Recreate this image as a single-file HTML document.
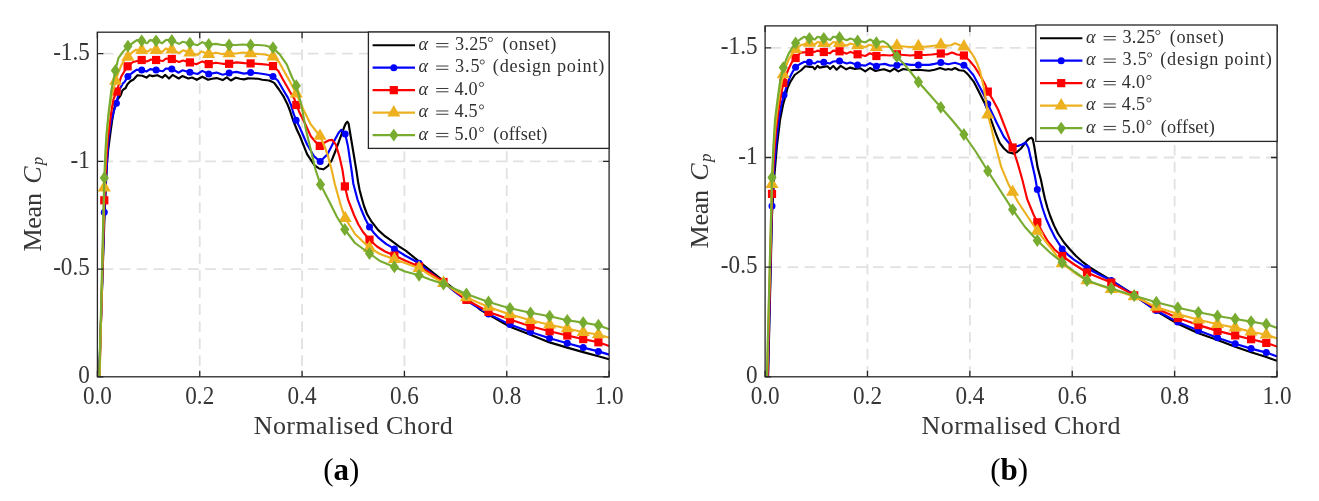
<!DOCTYPE html><html><head><meta charset="utf-8"><style>html,body{margin:0;padding:0;background:#fff;width:1319px;height:501px;overflow:hidden}svg{display:block;will-change:transform}text{font-family:"Liberation Serif", serif}</style></head><body>
<svg width="1319" height="501" viewBox="0 0 1319 501">
<defs>
<clipPath id="cL"><rect x="97.4" y="32.2" width="511.7" height="344.6"/></clipPath>
<clipPath id="cR"><rect x="765.1" y="25.9" width="511.9" height="350.9"/></clipPath>
</defs>
<rect width="1319" height="501" fill="#fff"/>
<path d="M199.74 32.2V42.9M199.74 49.2V59.9M199.74 66.2V76.9M199.74 83.2V93.9M199.74 100.2V110.9M199.74 117.2V127.9M199.74 134.2V144.9M199.74 151.2V161.9M199.74 168.2V178.9M199.74 185.2V195.9M199.74 202.2V212.9M199.74 219.2V229.9M199.74 236.2V246.9M199.74 253.2V263.9M199.74 270.2V280.9M199.74 287.2V297.9M199.74 304.2V314.9M199.74 321.2V331.9M199.74 338.2V348.9M199.74 355.2V365.9M199.74 372.2V376.8M302.08 32.2V42.9M302.08 49.2V59.9M302.08 66.2V76.9M302.08 83.2V93.9M302.08 100.2V110.9M302.08 117.2V127.9M302.08 134.2V144.9M302.08 151.2V161.9M302.08 168.2V178.9M302.08 185.2V195.9M302.08 202.2V212.9M302.08 219.2V229.9M302.08 236.2V246.9M302.08 253.2V263.9M302.08 270.2V280.9M302.08 287.2V297.9M302.08 304.2V314.9M302.08 321.2V331.9M302.08 338.2V348.9M302.08 355.2V365.9M302.08 372.2V376.8M404.42 32.2V42.9M404.42 49.2V59.9M404.42 66.2V76.9M404.42 83.2V93.9M404.42 100.2V110.9M404.42 117.2V127.9M404.42 134.2V144.9M404.42 151.2V161.9M404.42 168.2V178.9M404.42 185.2V195.9M404.42 202.2V212.9M404.42 219.2V229.9M404.42 236.2V246.9M404.42 253.2V263.9M404.42 270.2V280.9M404.42 287.2V297.9M404.42 304.2V314.9M404.42 321.2V331.9M404.42 338.2V348.9M404.42 355.2V365.9M404.42 372.2V376.8M506.76 32.2V42.9M506.76 49.2V59.9M506.76 66.2V76.9M506.76 83.2V93.9M506.76 100.2V110.9M506.76 117.2V127.9M506.76 134.2V144.9M506.76 151.2V161.9M506.76 168.2V178.9M506.76 185.2V195.9M506.76 202.2V212.9M506.76 219.2V229.9M506.76 236.2V246.9M506.76 253.2V263.9M506.76 270.2V280.9M506.76 287.2V297.9M506.76 304.2V314.9M506.76 321.2V331.9M506.76 338.2V348.9M506.76 355.2V365.9M506.76 372.2V376.8M598.4 269.1H609.1M581.3 269.1H592M564.2 269.1H574.9M547.1 269.1H557.8M530 269.1H540.7M512.9 269.1H523.6M495.8 269.1H506.5M478.7 269.1H489.4M461.6 269.1H472.3M444.5 269.1H455.2M427.4 269.1H438.1M410.3 269.1H421M393.2 269.1H403.9M376.1 269.1H386.8M359 269.1H369.7M341.9 269.1H352.6M324.8 269.1H335.5M307.7 269.1H318.4M290.6 269.1H301.3M273.5 269.1H284.2M256.4 269.1H267.1M239.3 269.1H250M222.2 269.1H232.9M205.1 269.1H215.8M188 269.1H198.7M170.9 269.1H181.6M153.8 269.1H164.5M136.7 269.1H147.4M119.6 269.1H130.3M102.5 269.1H113.2M598.4 161.4H609.1M581.3 161.4H592M564.2 161.4H574.9M547.1 161.4H557.8M530 161.4H540.7M512.9 161.4H523.6M495.8 161.4H506.5M478.7 161.4H489.4M461.6 161.4H472.3M444.5 161.4H455.2M427.4 161.4H438.1M410.3 161.4H421M393.2 161.4H403.9M376.1 161.4H386.8M359 161.4H369.7M341.9 161.4H352.6M324.8 161.4H335.5M307.7 161.4H318.4M290.6 161.4H301.3M273.5 161.4H284.2M256.4 161.4H267.1M239.3 161.4H250M222.2 161.4H232.9M205.1 161.4H215.8M188 161.4H198.7M170.9 161.4H181.6M153.8 161.4H164.5M136.7 161.4H147.4M119.6 161.4H130.3M102.5 161.4H113.2M598.4 53.7H609.1M581.3 53.7H592M564.2 53.7H574.9M547.1 53.7H557.8M530 53.7H540.7M512.9 53.7H523.6M495.8 53.7H506.5M478.7 53.7H489.4M461.6 53.7H472.3M444.5 53.7H455.2M427.4 53.7H438.1M410.3 53.7H421M393.2 53.7H403.9M376.1 53.7H386.8M359 53.7H369.7M341.9 53.7H352.6M324.8 53.7H335.5M307.7 53.7H318.4M290.6 53.7H301.3M273.5 53.7H284.2M256.4 53.7H267.1M239.3 53.7H250M222.2 53.7H232.9M205.1 53.7H215.8M188 53.7H198.7M170.9 53.7H181.6M153.8 53.7H164.5M136.7 53.7H147.4M119.6 53.7H130.3M102.5 53.7H113.2" stroke="#e1e1e1" stroke-width="1.8" fill="none"/>
<polyline points="99,380 104.3,222 106,182 107.2,160 108.4,148 109.6,139 110.8,130 112.2,120 113.6,112 115.2,104 117,100 119,97.5 120.8,95 122.4,90.5 124,89 125.5,88.2 127.3,84.5 130.3,81.2 133.5,79.5 137.4,75.2 142.3,75.8 146.5,77.6 149.6,75.2 152.6,76.1 157.4,75.2 162.3,77.6 165.3,74.9 169,78.5 172.6,74.9 178.7,78.5 182.3,76.1 188.4,78.5 192,77.5 196.8,79.8 202.3,76.7 208.1,79.8 212,78.8 216.6,78.1 222.7,80.1 226.8,77.4 230.9,80.5 235.7,77.7 240,78.8 243.9,79.4 248,78.4 253,78.5 258.2,78.8 262.3,79.8 269.1,80.5 271.5,81.6 274.2,82.9 279,89.5 283.7,96.7 287.3,103.9 289.7,110 293,120 297,130 300,136.3 307.2,154.3 314.4,165.1 319,168.5 323.4,169.3 328,166 331.7,160.3 335.5,151 339.5,139.9 344.3,126.8 345.9,123.2 347.3,121.7 348.6,123.6 350.3,134 353.9,155.5 356.3,170 358.1,182 359.6,190 362,199 364,206 367,214 371,220.8 378,229.9 385,236.2 392,241.2 399,246.3 406,250.8 419.2,261.6 442.3,280 465.5,297.5 480,309.5 488.5,314.5 510,326.7 530.5,334.7 549.6,342.4 567.3,347.6 583.2,352.1 598.4,356.3 609.1,359.3" fill="none" stroke="#000000" stroke-width="2.15" stroke-linejoin="round" clip-path="url(#cL)"/>
<g clip-path="url(#cL)"></g>
<polyline points="99.2,380 104.3,212.2 106.5,170 108.5,140 110.5,125 113.6,112 116.4,103.3 118.3,95 119.8,89 121.2,86.5 122.8,83.5 124.5,82 127.9,76.6 132,73 136.8,69.7 141.7,70.1 146.5,71.5 150.2,69.1 156.1,70.1 162.9,71.2 165.9,68.5 171.8,68.9 178.7,72.7 182.3,70.3 189.9,72.3 197.5,74 202.3,70.9 208.7,74 216.6,72.6 222.7,74.7 229.1,73 236.4,71.9 243.9,73.6 250.6,72.6 258.2,73.3 265,74.3 269,75 273,76.5 277.8,80.5 283.7,90.7 288,97.9 291,105 293,112 296.1,120.3 300,128 307.2,144.7 314.4,156.7 320.2,161.5 327.5,154.3 334.7,139.9 338.5,133 341.3,129.8 345.2,134 347.9,145.9 351.5,170 353.4,184 357.5,199.5 361,209 365.3,219 369.5,227.1 374,233 378,237.3 386,243.8 394.4,248.9 405,255.5 419.1,263.3 430,272 443.5,282.5 455,292 466.4,300.5 488.5,313.9 510,324.6 530.5,332 549.6,338.3 567.3,343.2 583.2,347.6 598.4,351.4 609.1,354.6" fill="none" stroke="#0000ff" stroke-width="2.15" stroke-linejoin="round" clip-path="url(#cL)"/>
<g clip-path="url(#cL)"><circle cx="104.3" cy="212.2" r="3.5" fill="#0000ff"/><circle cx="116.4" cy="103.3" r="3.5" fill="#0000ff"/><circle cx="127.9" cy="76.6" r="3.5" fill="#0000ff"/><circle cx="141.7" cy="70.1" r="3.5" fill="#0000ff"/><circle cx="156.1" cy="70.1" r="3.5" fill="#0000ff"/><circle cx="171.8" cy="68.9" r="3.5" fill="#0000ff"/><circle cx="189.9" cy="72.3" r="3.5" fill="#0000ff"/><circle cx="208.7" cy="74" r="3.5" fill="#0000ff"/><circle cx="229.1" cy="73" r="3.5" fill="#0000ff"/><circle cx="250.6" cy="72.6" r="3.5" fill="#0000ff"/><circle cx="273" cy="76.5" r="3.5" fill="#0000ff"/><circle cx="296.1" cy="120.3" r="3.5" fill="#0000ff"/><circle cx="320.2" cy="161.5" r="3.5" fill="#0000ff"/><circle cx="345.2" cy="134" r="3.5" fill="#0000ff"/><circle cx="369.5" cy="227.1" r="3.5" fill="#0000ff"/><circle cx="394.4" cy="248.9" r="3.5" fill="#0000ff"/><circle cx="419.1" cy="263.3" r="3.5" fill="#0000ff"/><circle cx="443.5" cy="282.5" r="3.5" fill="#0000ff"/><circle cx="466.4" cy="300.5" r="3.5" fill="#0000ff"/><circle cx="488.5" cy="313.9" r="3.5" fill="#0000ff"/><circle cx="510" cy="324.6" r="3.5" fill="#0000ff"/><circle cx="530.5" cy="332" r="3.5" fill="#0000ff"/><circle cx="549.6" cy="338.3" r="3.5" fill="#0000ff"/><circle cx="567.3" cy="343.2" r="3.5" fill="#0000ff"/><circle cx="583.2" cy="347.6" r="3.5" fill="#0000ff"/><circle cx="598.4" cy="351.4" r="3.5" fill="#0000ff"/></g>
<polyline points="99.4,380 104.3,200.3 106,165 107.5,140 109,130 110.5,118 112.2,106 113.6,99 115.2,95 116.6,91.5 119,84 121,77 124,72 127.6,66.3 133,62 141.7,60 147,61.5 151,59.5 156.1,60 163,61 166,58.5 171.8,59 179,62 183,60.5 189.9,62.4 196.4,64.3 202.3,61.4 208.7,64.1 215.9,62.7 222.7,63.8 229.1,63.8 236.4,62.4 244.6,63.1 250.6,63.4 261.6,64.1 268,64.8 273,66.1 278.4,71 282.5,78.7 288,88.3 292.1,95.5 294.5,99.1 296.3,105 300,113.6 306,125.6 310.8,136.3 315,141.4 319.8,145.9 325.1,142.3 329,140.3 332.3,139.9 335.9,144.7 339.5,156.7 342.5,170 344.9,186.4 348,199.5 350.7,206.5 354,215 358.4,224.5 363,232 369.5,239.7 377,246.5 385,251.5 394.4,255.6 405,260.5 419.1,266.6 430,273 443.5,282 455,291 466.4,299.8 488.5,311.9 510,319.5 530.5,326.2 549.6,331.2 567.3,335.5 583.2,339.1 598.4,342.3 609.1,346" fill="none" stroke="#ff0000" stroke-width="2.15" stroke-linejoin="round" clip-path="url(#cL)"/>
<g clip-path="url(#cL)"><rect x="100.2" y="196.2" width="8.2" height="8.2" fill="#ff0000"/><rect x="112.5" y="87.4" width="8.2" height="8.2" fill="#ff0000"/><rect x="123.5" y="62.2" width="8.2" height="8.2" fill="#ff0000"/><rect x="137.6" y="55.9" width="8.2" height="8.2" fill="#ff0000"/><rect x="152" y="55.9" width="8.2" height="8.2" fill="#ff0000"/><rect x="167.7" y="54.9" width="8.2" height="8.2" fill="#ff0000"/><rect x="185.8" y="58.3" width="8.2" height="8.2" fill="#ff0000"/><rect x="204.6" y="60" width="8.2" height="8.2" fill="#ff0000"/><rect x="225" y="59.7" width="8.2" height="8.2" fill="#ff0000"/><rect x="246.5" y="59.3" width="8.2" height="8.2" fill="#ff0000"/><rect x="268.9" y="62" width="8.2" height="8.2" fill="#ff0000"/><rect x="292.2" y="100.9" width="8.2" height="8.2" fill="#ff0000"/><rect x="315.7" y="141.8" width="8.2" height="8.2" fill="#ff0000"/><rect x="340.8" y="182.3" width="8.2" height="8.2" fill="#ff0000"/><rect x="365.4" y="235.6" width="8.2" height="8.2" fill="#ff0000"/><rect x="390.3" y="251.5" width="8.2" height="8.2" fill="#ff0000"/><rect x="415" y="262.5" width="8.2" height="8.2" fill="#ff0000"/><rect x="439.4" y="277.9" width="8.2" height="8.2" fill="#ff0000"/><rect x="462.3" y="295.7" width="8.2" height="8.2" fill="#ff0000"/><rect x="484.4" y="307.8" width="8.2" height="8.2" fill="#ff0000"/><rect x="505.9" y="315.4" width="8.2" height="8.2" fill="#ff0000"/><rect x="526.4" y="322.1" width="8.2" height="8.2" fill="#ff0000"/><rect x="545.5" y="327.1" width="8.2" height="8.2" fill="#ff0000"/><rect x="563.2" y="331.4" width="8.2" height="8.2" fill="#ff0000"/><rect x="579.1" y="335" width="8.2" height="8.2" fill="#ff0000"/><rect x="594.3" y="338.2" width="8.2" height="8.2" fill="#ff0000"/></g>
<polyline points="99.6,380 104.3,187.7 105.8,155 107.3,130 109,112 111.5,97 115.6,81 118.5,72 121.5,65 124,60.5 127.9,57 132,52.5 136.1,49.7 141.7,50.2 148.4,51.4 150.5,49.3 156.1,50.2 162.7,51.7 165.5,48.6 171.8,49.8 179.1,53.1 182.9,50.3 186.6,51.4 189.9,52.7 197.5,54.8 201.6,51.4 208.7,54.2 216,52.7 222,54 229.1,53.4 236,53.5 243,52.5 250.6,53.4 258,54 265,54.5 273,56.6 279,62 283.7,70.4 289.7,81.1 296.3,93.7 303.6,110 310.8,124.4 316,131 320,136 324,145 327.5,154.3 331.7,170 334.8,184 340.8,205.5 345.2,218.3 355,234 369.5,247.9 380,254 394.4,259.3 405,263 419.1,268.2 430,275 443.5,283.2 455,290.5 466.4,297.4 488.5,307 510,314.4 530.5,320.3 549.6,324.7 567.3,328.5 583.2,332.2 598.4,334.5 609.1,337.8" fill="none" stroke="#edb120" stroke-width="2.15" stroke-linejoin="round" clip-path="url(#cL)"/>
<g clip-path="url(#cL)"><path d="M104.3 180.1L110.88 191.5L97.72 191.5Z" fill="#edb120"/><path d="M115.6 73.4L122.18 84.8L109.02 84.8Z" fill="#edb120"/><path d="M127.9 49.4L134.48 60.8L121.32 60.8Z" fill="#edb120"/><path d="M141.7 42.6L148.28 54L135.12 54Z" fill="#edb120"/><path d="M156.1 42.6L162.68 54L149.52 54Z" fill="#edb120"/><path d="M171.8 42.2L178.38 53.6L165.22 53.6Z" fill="#edb120"/><path d="M189.9 45.1L196.48 56.5L183.32 56.5Z" fill="#edb120"/><path d="M208.7 46.6L215.28 58L202.12 58Z" fill="#edb120"/><path d="M229.1 45.8L235.68 57.2L222.52 57.2Z" fill="#edb120"/><path d="M250.6 45.8L257.18 57.2L244.02 57.2Z" fill="#edb120"/><path d="M273 49L279.58 60.4L266.42 60.4Z" fill="#edb120"/><path d="M296.3 86.1L302.88 97.5L289.72 97.5Z" fill="#edb120"/><path d="M320 128.4L326.58 139.8L313.42 139.8Z" fill="#edb120"/><path d="M345.2 210.7L351.78 222.1L338.62 222.1Z" fill="#edb120"/><path d="M369.5 240.3L376.08 251.7L362.92 251.7Z" fill="#edb120"/><path d="M394.4 251.7L400.98 263.1L387.82 263.1Z" fill="#edb120"/><path d="M419.1 260.6L425.68 272L412.52 272Z" fill="#edb120"/><path d="M443.5 275.6L450.08 287L436.92 287Z" fill="#edb120"/><path d="M466.4 289.8L472.98 301.2L459.82 301.2Z" fill="#edb120"/><path d="M488.5 299.4L495.08 310.8L481.92 310.8Z" fill="#edb120"/><path d="M510 306.8L516.58 318.2L503.42 318.2Z" fill="#edb120"/><path d="M530.5 312.7L537.08 324.1L523.92 324.1Z" fill="#edb120"/><path d="M549.6 317.1L556.18 328.5L543.02 328.5Z" fill="#edb120"/><path d="M567.3 320.9L573.88 332.3L560.72 332.3Z" fill="#edb120"/><path d="M583.2 324.6L589.78 336L576.62 336Z" fill="#edb120"/><path d="M598.4 326.9L604.98 338.3L591.82 338.3Z" fill="#edb120"/></g>
<polyline points="99.2,380 104.3,177.9 105.5,150 106.5,134 108.7,112 111.4,90 115.4,70.5 118.4,58.1 123.1,51.6 127.9,46.2 132,43.5 136.8,40.1 141.7,40.8 147,43.2 150.1,40.1 156.1,40.8 162.1,43.2 166.2,39.8 171.8,40.5 179.1,43.9 182.5,41.8 185.9,42.5 189.9,43.2 197.5,45.2 202.3,42.2 208.7,44.5 216,43.9 222,45 229.1,45 236,45 243,44.5 250.6,45 258,45 265,45.5 273,47.7 280.1,54.8 286.7,64.4 292.1,77.5 296.3,85.7 301.1,103.9 306,130 310.8,150 315.6,170 320.5,184.5 330,203 337,217 344.8,229.5 355,243 369.5,253.5 380,261 394.4,266.9 405,271.5 419.1,275.3 430,279.5 443.5,284 455,289 466.4,294 488.5,302 510,308.3 530.5,312.8 549.6,316.2 567.3,320.3 583.2,322.6 598.4,325.2 609.1,329.3" fill="none" stroke="#77ac30" stroke-width="2.15" stroke-linejoin="round" clip-path="url(#cL)"/>
<g clip-path="url(#cL)"><path d="M104.3 171.5L108.9 177.9L104.3 184.3L99.7 177.9Z" fill="#77ac30"/><path d="M115.4 64.1L120 70.5L115.4 76.9L110.8 70.5Z" fill="#77ac30"/><path d="M127.9 39.8L132.5 46.2L127.9 52.6L123.3 46.2Z" fill="#77ac30"/><path d="M141.7 34.4L146.3 40.8L141.7 47.2L137.1 40.8Z" fill="#77ac30"/><path d="M156.1 34.4L160.7 40.8L156.1 47.2L151.5 40.8Z" fill="#77ac30"/><path d="M171.8 34.1L176.4 40.5L171.8 46.9L167.2 40.5Z" fill="#77ac30"/><path d="M189.9 36.8L194.5 43.2L189.9 49.6L185.3 43.2Z" fill="#77ac30"/><path d="M208.7 38.1L213.3 44.5L208.7 50.9L204.1 44.5Z" fill="#77ac30"/><path d="M229.1 38.6L233.7 45L229.1 51.4L224.5 45Z" fill="#77ac30"/><path d="M250.6 38.6L255.2 45L250.6 51.4L246 45Z" fill="#77ac30"/><path d="M273 41.3L277.6 47.7L273 54.1L268.4 47.7Z" fill="#77ac30"/><path d="M296.3 79.3L300.9 85.7L296.3 92.1L291.7 85.7Z" fill="#77ac30"/><path d="M320.5 178.1L325.1 184.5L320.5 190.9L315.9 184.5Z" fill="#77ac30"/><path d="M344.8 223.1L349.4 229.5L344.8 235.9L340.2 229.5Z" fill="#77ac30"/><path d="M369.5 247.1L374.1 253.5L369.5 259.9L364.9 253.5Z" fill="#77ac30"/><path d="M394.4 260.5L399 266.9L394.4 273.3L389.8 266.9Z" fill="#77ac30"/><path d="M419.1 268.9L423.7 275.3L419.1 281.7L414.5 275.3Z" fill="#77ac30"/><path d="M443.5 277.6L448.1 284L443.5 290.4L438.9 284Z" fill="#77ac30"/><path d="M466.4 287.6L471 294L466.4 300.4L461.8 294Z" fill="#77ac30"/><path d="M488.5 295.6L493.1 302L488.5 308.4L483.9 302Z" fill="#77ac30"/><path d="M510 301.9L514.6 308.3L510 314.7L505.4 308.3Z" fill="#77ac30"/><path d="M530.5 306.4L535.1 312.8L530.5 319.2L525.9 312.8Z" fill="#77ac30"/><path d="M549.6 309.8L554.2 316.2L549.6 322.6L545 316.2Z" fill="#77ac30"/><path d="M567.3 313.9L571.9 320.3L567.3 326.7L562.7 320.3Z" fill="#77ac30"/><path d="M583.2 316.2L587.8 322.6L583.2 329L578.6 322.6Z" fill="#77ac30"/><path d="M598.4 318.8L603 325.2L598.4 331.6L593.8 325.2Z" fill="#77ac30"/></g>
<path d="M97.4 376.8v-6.0M97.4 32.2v6.0M199.74 376.8v-6.0M199.74 32.2v6.0M302.08 376.8v-6.0M302.08 32.2v6.0M404.42 376.8v-6.0M404.42 32.2v6.0M506.76 376.8v-6.0M506.76 32.2v6.0M609.1 376.8v-6.0M609.1 32.2v6.0M97.4 376.8h6.0M609.1 376.8h-6.0M97.4 269.1h6.0M609.1 269.1h-6.0M97.4 161.4h6.0M609.1 161.4h-6.0M97.4 53.7h6.0M609.1 53.7h-6.0" stroke="#262626" stroke-width="1.3" fill="none"/>
<rect x="97.4" y="32.2" width="511.7" height="344.6" stroke="#262626" stroke-width="1.3" fill="none"/>
<text transform="translate(89.8,383) scale(0.965,1.03)" text-anchor="end" font-size="24" fill="#363636">0</text>
<text transform="translate(89.8,275.3) scale(0.965,1.03)" text-anchor="end" font-size="24" fill="#363636">-0.5</text>
<text transform="translate(89.8,167.6) scale(0.965,1.03)" text-anchor="end" font-size="24" fill="#363636">-1</text>
<text transform="translate(89.8,59.9) scale(0.965,1.03)" text-anchor="end" font-size="24" fill="#363636">-1.5</text>
<text transform="translate(97.4,403.7) scale(0.965,1.05)" text-anchor="middle" font-size="24" fill="#363636">0.0</text>
<text transform="translate(199.74,403.7) scale(0.965,1.05)" text-anchor="middle" font-size="24" fill="#363636">0.2</text>
<text transform="translate(302.08,403.7) scale(0.965,1.05)" text-anchor="middle" font-size="24" fill="#363636">0.4</text>
<text transform="translate(404.42,403.7) scale(0.965,1.05)" text-anchor="middle" font-size="24" fill="#363636">0.6</text>
<text transform="translate(506.76,403.7) scale(0.965,1.05)" text-anchor="middle" font-size="24" fill="#363636">0.8</text>
<text transform="translate(609.1,403.7) scale(0.965,1.05)" text-anchor="middle" font-size="24" fill="#363636">1.0</text>
<rect x="368.4" y="32" width="240.7" height="116.4" fill="#fff" stroke="#262626" stroke-width="1.3"/>
<line x1="372.6" y1="45.2" x2="415" y2="45.2" stroke="#000000" stroke-width="2.15"/>

<text x="418.6" y="50" font-size="18.2" font-style="italic" fill="#303030">α</text>
<path d="M436.2 43.55H448.4M436.2 46.85H448.4" stroke="#303030" stroke-width="0.95"/>
<text x="455.1" y="50" font-size="18.2" fill="#303030" textLength="32.5" lengthAdjust="spacing">3.25</text>
<circle cx="490.4" cy="39.5" r="2.1" fill="none" stroke="#303030" stroke-width="0.85"/>
<text x="502.4" y="50" font-size="18.2" fill="#303030" textLength="53.9" lengthAdjust="spacing">(onset)</text>
<line x1="372.6" y1="67.67" x2="415" y2="67.67" stroke="#0000ff" stroke-width="2.15"/>
<circle cx="393.8" cy="67.67" r="3.5" fill="#0000ff"/>
<text x="418.6" y="72.47" font-size="18.2" font-style="italic" fill="#303030">α</text>
<path d="M436.2 66.02H448.4M436.2 69.32H448.4" stroke="#303030" stroke-width="0.95"/>
<text x="455.1" y="72.47" font-size="18.2" fill="#303030" textLength="24.4" lengthAdjust="spacing">3.5</text>
<circle cx="482.2" cy="61.97" r="2.1" fill="none" stroke="#303030" stroke-width="0.85"/>
<text x="492.8" y="72.47" font-size="18.2" fill="#303030" textLength="111.5" lengthAdjust="spacing">(design point)</text>
<line x1="372.6" y1="90.14" x2="415" y2="90.14" stroke="#ff0000" stroke-width="2.15"/>
<rect x="389.7" y="86.04" width="8.2" height="8.2" fill="#ff0000"/>
<text x="418.6" y="94.94" font-size="18.2" font-style="italic" fill="#303030">α</text>
<path d="M436.2 88.49H448.4M436.2 91.79H448.4" stroke="#303030" stroke-width="0.95"/>
<text x="454.4" y="94.94" font-size="18.2" fill="#303030" textLength="23.3" lengthAdjust="spacing">4.0</text>
<circle cx="481.5" cy="84.44" r="2.1" fill="none" stroke="#303030" stroke-width="0.85"/>
<line x1="372.6" y1="112.61" x2="415" y2="112.61" stroke="#edb120" stroke-width="2.15"/>
<path d="M393.8 105.01L400.38 116.41L387.22 116.41Z" fill="#edb120"/>
<text x="418.6" y="117.41" font-size="18.2" font-style="italic" fill="#303030">α</text>
<path d="M436.2 110.96H448.4M436.2 114.26H448.4" stroke="#303030" stroke-width="0.95"/>
<text x="454.4" y="117.41" font-size="18.2" fill="#303030" textLength="23.3" lengthAdjust="spacing">4.5</text>
<circle cx="481.5" cy="106.91" r="2.1" fill="none" stroke="#303030" stroke-width="0.85"/>
<line x1="372.6" y1="135.08" x2="415" y2="135.08" stroke="#77ac30" stroke-width="2.15"/>
<path d="M393.8 128.68L398.4 135.08L393.8 141.48L389.2 135.08Z" fill="#77ac30"/>
<text x="418.6" y="139.88" font-size="18.2" font-style="italic" fill="#303030">α</text>
<path d="M436.2 133.43H448.4M436.2 136.73H448.4" stroke="#303030" stroke-width="0.95"/>
<text x="454.4" y="139.88" font-size="18.2" fill="#303030" textLength="23.3" lengthAdjust="spacing">5.0</text>
<circle cx="481.5" cy="129.38" r="2.1" fill="none" stroke="#303030" stroke-width="0.85"/>
<text x="493.3" y="139.88" font-size="18.2" fill="#303030" textLength="54.1" lengthAdjust="spacing">(offset)</text>
<text x="353.25" y="433.6" text-anchor="middle" font-size="26" fill="#363636" textLength="199" lengthAdjust="spacing">Normalised Chord</text>
<text transform="translate(40.6,251.6) rotate(-90)" font-size="26" fill="#363636" textLength="58.5" lengthAdjust="spacing">Mean</text>
<text transform="translate(40.6,183.8) rotate(-90)" font-size="26" font-style="italic" fill="#363636">C</text>
<text transform="translate(43.2,165.2) rotate(-90)" font-size="17" font-style="italic" fill="#363636">p</text>
<text x="341.35" y="479.6" text-anchor="middle" font-size="31" fill="#000">(<tspan font-weight="bold">a</tspan>)</text>
<path d="M867.48 25.9V36.6M867.48 42.9V53.6M867.48 59.9V70.6M867.48 76.9V87.6M867.48 93.9V104.6M867.48 110.9V121.6M867.48 127.9V138.6M867.48 144.9V155.6M867.48 161.9V172.6M867.48 178.9V189.6M867.48 195.9V206.6M867.48 212.9V223.6M867.48 229.9V240.6M867.48 246.9V257.6M867.48 263.9V274.6M867.48 280.9V291.6M867.48 297.9V308.6M867.48 314.9V325.6M867.48 331.9V342.6M867.48 348.9V359.6M867.48 365.9V376.6M969.86 25.9V36.6M969.86 42.9V53.6M969.86 59.9V70.6M969.86 76.9V87.6M969.86 93.9V104.6M969.86 110.9V121.6M969.86 127.9V138.6M969.86 144.9V155.6M969.86 161.9V172.6M969.86 178.9V189.6M969.86 195.9V206.6M969.86 212.9V223.6M969.86 229.9V240.6M969.86 246.9V257.6M969.86 263.9V274.6M969.86 280.9V291.6M969.86 297.9V308.6M969.86 314.9V325.6M969.86 331.9V342.6M969.86 348.9V359.6M969.86 365.9V376.6M1072.24 25.9V36.6M1072.24 42.9V53.6M1072.24 59.9V70.6M1072.24 76.9V87.6M1072.24 93.9V104.6M1072.24 110.9V121.6M1072.24 127.9V138.6M1072.24 144.9V155.6M1072.24 161.9V172.6M1072.24 178.9V189.6M1072.24 195.9V206.6M1072.24 212.9V223.6M1072.24 229.9V240.6M1072.24 246.9V257.6M1072.24 263.9V274.6M1072.24 280.9V291.6M1072.24 297.9V308.6M1072.24 314.9V325.6M1072.24 331.9V342.6M1072.24 348.9V359.6M1072.24 365.9V376.6M1174.62 25.9V36.6M1174.62 42.9V53.6M1174.62 59.9V70.6M1174.62 76.9V87.6M1174.62 93.9V104.6M1174.62 110.9V121.6M1174.62 127.9V138.6M1174.62 144.9V155.6M1174.62 161.9V172.6M1174.62 178.9V189.6M1174.62 195.9V206.6M1174.62 212.9V223.6M1174.62 229.9V240.6M1174.62 246.9V257.6M1174.62 263.9V274.6M1174.62 280.9V291.6M1174.62 297.9V308.6M1174.62 314.9V325.6M1174.62 331.9V342.6M1174.62 348.9V359.6M1174.62 365.9V376.6M1266.3 267.15H1277M1249.2 267.15H1259.9M1232.1 267.15H1242.8M1215 267.15H1225.7M1197.9 267.15H1208.6M1180.8 267.15H1191.5M1163.7 267.15H1174.4M1146.6 267.15H1157.3M1129.5 267.15H1140.2M1112.4 267.15H1123.1M1095.3 267.15H1106M1078.2 267.15H1088.9M1061.1 267.15H1071.8M1044 267.15H1054.7M1026.9 267.15H1037.6M1009.8 267.15H1020.5M992.7 267.15H1003.4M975.6 267.15H986.3M958.5 267.15H969.2M941.4 267.15H952.1M924.3 267.15H935M907.2 267.15H917.9M890.1 267.15H900.8M873 267.15H883.7M855.9 267.15H866.6M838.8 267.15H849.5M821.7 267.15H832.4M804.6 267.15H815.3M787.5 267.15H798.2M770.4 267.15H781.1M1266.3 157.5H1277M1249.2 157.5H1259.9M1232.1 157.5H1242.8M1215 157.5H1225.7M1197.9 157.5H1208.6M1180.8 157.5H1191.5M1163.7 157.5H1174.4M1146.6 157.5H1157.3M1129.5 157.5H1140.2M1112.4 157.5H1123.1M1095.3 157.5H1106M1078.2 157.5H1088.9M1061.1 157.5H1071.8M1044 157.5H1054.7M1026.9 157.5H1037.6M1009.8 157.5H1020.5M992.7 157.5H1003.4M975.6 157.5H986.3M958.5 157.5H969.2M941.4 157.5H952.1M924.3 157.5H935M907.2 157.5H917.9M890.1 157.5H900.8M873 157.5H883.7M855.9 157.5H866.6M838.8 157.5H849.5M821.7 157.5H832.4M804.6 157.5H815.3M787.5 157.5H798.2M770.4 157.5H781.1M1266.3 47.85H1277M1249.2 47.85H1259.9M1232.1 47.85H1242.8M1215 47.85H1225.7M1197.9 47.85H1208.6M1180.8 47.85H1191.5M1163.7 47.85H1174.4M1146.6 47.85H1157.3M1129.5 47.85H1140.2M1112.4 47.85H1123.1M1095.3 47.85H1106M1078.2 47.85H1088.9M1061.1 47.85H1071.8M1044 47.85H1054.7M1026.9 47.85H1037.6M1009.8 47.85H1020.5M992.7 47.85H1003.4M975.6 47.85H986.3M958.5 47.85H969.2M941.4 47.85H952.1M924.3 47.85H935M907.2 47.85H917.9M890.1 47.85H900.8M873 47.85H883.7M855.9 47.85H866.6M838.8 47.85H849.5M821.7 47.85H832.4M804.6 47.85H815.3M787.5 47.85H798.2M770.4 47.85H781.1" stroke="#e1e1e1" stroke-width="1.8" fill="none"/>
<polyline points="768,380 772,215 774,180 777,145 780,120 783,105 785.5,96 787.5,88 790,82.5 792.3,78.8 794.6,75 798,72.5 801.5,70 805.2,66.3 810,66.9 812.7,66.9 814.8,69.3 817.5,65.9 819.6,67.6 825,66.6 827.4,66.3 830.1,69 833.2,65.9 836.6,69.7 840.7,65.9 846.2,69.3 850.3,67.6 855,69 860.5,68.3 865.3,71.4 870,68 875.5,71 881,69.7 884.1,69.3 890.2,71.4 894.3,68.6 898.4,71.4 903.2,69 910.7,70.3 918.2,69.7 929.1,70.7 934.6,69.7 940,68 945.5,69.7 948.2,69 951.6,69.7 955,68 959.1,70.3 963.9,70.7 966.5,73 968.7,75.3 973.5,81.3 976,86 985.6,105.1 992,122.7 996,134 999.8,143.2 1004,148.5 1008.2,152.2 1013.8,153.6 1017,152 1020.7,148.8 1024,144.5 1027,140.6 1029.5,138.4 1031.5,137.7 1032.8,139.2 1034.2,146 1037.5,166.9 1041,180 1043,190 1045,199 1047.5,208 1050,215.5 1054,225.5 1058,233.5 1064,242.5 1070,249.5 1076,256 1081.9,261.3 1090,267.3 1098,272.5 1107.7,278.1 1134.2,295 1156.3,311 1177.8,323.7 1198.4,333.3 1217.5,339.9 1235.2,346.8 1251.1,352.2 1266.3,357 1277,360.8" fill="none" stroke="#000000" stroke-width="2.15" stroke-linejoin="round" clip-path="url(#cR)"/>
<g clip-path="url(#cR)"></g>
<polyline points="767.8,380 772,205.9 774,170 776.5,140 779,118 781.5,104 784,95.1 787,85 790,77 792.5,72 795.6,67.3 800,64 804.5,61.8 809.4,62.2 814.8,63.5 817.5,61.5 823.8,62.2 829.8,63.5 833.2,61.5 839.5,61.1 846.8,63.5 850.3,62.5 857.6,64.9 865.3,65.6 870,63.2 876.4,66.3 880,64.5 884.8,63.9 890.2,65.6 896.9,65.2 903.9,63.9 910.7,64.9 918.4,64.9 929.1,64.9 934.6,63.9 940.8,62.5 948.2,64.2 955,62.8 960.5,64.5 963.9,65.2 967.5,68.1 973.5,75.3 979.2,86 984,95 987.8,103.9 996.7,122.7 1004,137 1009.6,143.9 1014,146 1017.9,146 1022,144.5 1025.6,142.5 1028.5,148 1030.5,157.1 1034.7,175.3 1037.3,189.5 1040,199 1042.5,208 1046,218.5 1050,227.5 1055,237.5 1062.2,248.9 1068,254.8 1073.9,259.6 1087,268.2 1100,275 1111.3,280.5 1134.2,295.5 1156.3,310.5 1177.8,322.1 1198.4,330.6 1217.5,337.7 1235.2,343.7 1251.1,348.6 1266.3,352.6 1277,356.4" fill="none" stroke="#0000ff" stroke-width="2.15" stroke-linejoin="round" clip-path="url(#cR)"/>
<g clip-path="url(#cR)"><circle cx="772" cy="205.9" r="3.5" fill="#0000ff"/><circle cx="784" cy="95.1" r="3.5" fill="#0000ff"/><circle cx="795.6" cy="67.3" r="3.5" fill="#0000ff"/><circle cx="809.4" cy="62.2" r="3.5" fill="#0000ff"/><circle cx="823.8" cy="62.2" r="3.5" fill="#0000ff"/><circle cx="839.5" cy="61.1" r="3.5" fill="#0000ff"/><circle cx="857.6" cy="64.9" r="3.5" fill="#0000ff"/><circle cx="876.4" cy="66.3" r="3.5" fill="#0000ff"/><circle cx="896.9" cy="65.2" r="3.5" fill="#0000ff"/><circle cx="918.4" cy="64.9" r="3.5" fill="#0000ff"/><circle cx="940.8" cy="62.5" r="3.5" fill="#0000ff"/><circle cx="963.9" cy="65.2" r="3.5" fill="#0000ff"/><circle cx="987.8" cy="103.9" r="3.5" fill="#0000ff"/><circle cx="1037.3" cy="189.5" r="3.5" fill="#0000ff"/><circle cx="1062.2" cy="248.9" r="3.5" fill="#0000ff"/><circle cx="1087" cy="268.2" r="3.5" fill="#0000ff"/><circle cx="1111.3" cy="280.5" r="3.5" fill="#0000ff"/><circle cx="1134.2" cy="295.5" r="3.5" fill="#0000ff"/><circle cx="1156.3" cy="310.5" r="3.5" fill="#0000ff"/><circle cx="1177.8" cy="322.1" r="3.5" fill="#0000ff"/><circle cx="1198.4" cy="330.6" r="3.5" fill="#0000ff"/><circle cx="1217.5" cy="337.7" r="3.5" fill="#0000ff"/><circle cx="1235.2" cy="343.7" r="3.5" fill="#0000ff"/><circle cx="1251.1" cy="348.6" r="3.5" fill="#0000ff"/><circle cx="1266.3" cy="352.6" r="3.5" fill="#0000ff"/></g>
<polyline points="767.5,380 772,193.9 774,155 776,130 778.5,110 781,95 783.3,83 786,75 789,68 792,62 795.6,58 800.5,52.6 809.4,52 814.8,51.9 817.5,50.6 823.8,52 829.8,53.3 833.2,50.6 839.5,51.3 846.8,53.6 850.3,51.9 857.6,54.3 865.3,56 870,53.3 876.4,56 883,55 890,55.5 896.9,54.3 904,55 910,55.5 918.4,54.9 925,55 932,54.5 940.8,53.5 947,54.5 952,52.5 957,54.5 963.9,55.5 968.7,59.7 974.7,66.9 980.7,76.5 985.4,85 987.8,91.6 993,100 998.3,110 1006.3,130.7 1012.6,147.5 1017.9,164.1 1022.4,180 1027.2,199.2 1030,206 1033.5,214.5 1037.3,222.3 1042,231.5 1048,241.5 1054.5,249.5 1062.2,256 1075,265 1087,272.5 1100,278 1111.3,282.6 1134.2,295.4 1156.3,308.5 1177.8,318.1 1198.4,325.1 1217.5,330.9 1235.2,335.4 1251.1,339.2 1266.3,342.9 1277,346.6" fill="none" stroke="#ff0000" stroke-width="2.15" stroke-linejoin="round" clip-path="url(#cR)"/>
<g clip-path="url(#cR)"><rect x="767.9" y="189.8" width="8.2" height="8.2" fill="#ff0000"/><rect x="779.2" y="78.9" width="8.2" height="8.2" fill="#ff0000"/><rect x="791.5" y="53.9" width="8.2" height="8.2" fill="#ff0000"/><rect x="805.3" y="47.9" width="8.2" height="8.2" fill="#ff0000"/><rect x="819.7" y="47.9" width="8.2" height="8.2" fill="#ff0000"/><rect x="835.4" y="47.2" width="8.2" height="8.2" fill="#ff0000"/><rect x="853.5" y="50.2" width="8.2" height="8.2" fill="#ff0000"/><rect x="872.3" y="51.9" width="8.2" height="8.2" fill="#ff0000"/><rect x="892.8" y="50.2" width="8.2" height="8.2" fill="#ff0000"/><rect x="914.3" y="50.8" width="8.2" height="8.2" fill="#ff0000"/><rect x="936.7" y="49.4" width="8.2" height="8.2" fill="#ff0000"/><rect x="959.8" y="51.4" width="8.2" height="8.2" fill="#ff0000"/><rect x="983.7" y="87.5" width="8.2" height="8.2" fill="#ff0000"/><rect x="1008.5" y="143.4" width="8.2" height="8.2" fill="#ff0000"/><rect x="1033.2" y="218.2" width="8.2" height="8.2" fill="#ff0000"/><rect x="1058.1" y="251.9" width="8.2" height="8.2" fill="#ff0000"/><rect x="1082.9" y="268.4" width="8.2" height="8.2" fill="#ff0000"/><rect x="1107.2" y="278.5" width="8.2" height="8.2" fill="#ff0000"/><rect x="1130.1" y="291.3" width="8.2" height="8.2" fill="#ff0000"/><rect x="1152.2" y="304.4" width="8.2" height="8.2" fill="#ff0000"/><rect x="1173.7" y="314" width="8.2" height="8.2" fill="#ff0000"/><rect x="1194.3" y="321" width="8.2" height="8.2" fill="#ff0000"/><rect x="1213.4" y="326.8" width="8.2" height="8.2" fill="#ff0000"/><rect x="1231.1" y="331.3" width="8.2" height="8.2" fill="#ff0000"/><rect x="1247" y="335.1" width="8.2" height="8.2" fill="#ff0000"/><rect x="1262.2" y="338.8" width="8.2" height="8.2" fill="#ff0000"/></g>
<polyline points="767,380 772,184.3 773.5,150 775.5,125 778,104 780.5,88 783.3,74.5 786,66 789,59 792,54 795.6,49.5 801,45 809.4,43 814.8,44.5 817.5,42 823.8,43.2 829.8,45 833.2,42 839.5,43.2 846.8,45.5 850.3,43.5 857.6,45.5 865.3,47 870,44.8 876.4,47.2 883,46.5 890,47 896.9,45.8 904,46.5 910,47 918.4,46.4 925,46.8 932,46 940.8,44.8 947,45.6 951,45.3 955,43.3 960,45.3 963.9,46.6 968,49 971.1,52.5 974,57 977.1,63.3 980,71 981.9,78.9 984,88 986,101 987.8,114.7 991.4,128 995.6,146 1001.2,166.9 1008.2,183.7 1012.6,192 1018,202 1025.6,213.5 1037.3,231 1052.7,250.3 1062.2,263.5 1075,273 1087,280.5 1100,285.5 1111.3,289.3 1134.2,296.5 1156.3,307 1177.8,314.1 1198.4,319.7 1217.5,324.2 1235.2,327.6 1251.1,331.7 1266.3,334.7 1277,338.4" fill="none" stroke="#edb120" stroke-width="2.15" stroke-linejoin="round" clip-path="url(#cR)"/>
<g clip-path="url(#cR)"><path d="M772 176.7L778.58 188.1L765.42 188.1Z" fill="#edb120"/><path d="M783.3 66.9L789.88 78.3L776.72 78.3Z" fill="#edb120"/><path d="M795.6 41.9L802.18 53.3L789.02 53.3Z" fill="#edb120"/><path d="M809.4 35.4L815.98 46.8L802.82 46.8Z" fill="#edb120"/><path d="M823.8 35.6L830.38 47L817.22 47Z" fill="#edb120"/><path d="M839.5 35.6L846.08 47L832.92 47Z" fill="#edb120"/><path d="M857.6 37.9L864.18 49.3L851.02 49.3Z" fill="#edb120"/><path d="M876.4 39.6L882.98 51L869.82 51Z" fill="#edb120"/><path d="M896.9 38.2L903.48 49.6L890.32 49.6Z" fill="#edb120"/><path d="M918.4 38.8L924.98 50.2L911.82 50.2Z" fill="#edb120"/><path d="M940.8 37.2L947.38 48.6L934.22 48.6Z" fill="#edb120"/><path d="M963.9 39L970.48 50.4L957.32 50.4Z" fill="#edb120"/><path d="M987.8 107.1L994.38 118.5L981.22 118.5Z" fill="#edb120"/><path d="M1012.6 184.4L1019.18 195.8L1006.02 195.8Z" fill="#edb120"/><path d="M1037.3 223.4L1043.88 234.8L1030.72 234.8Z" fill="#edb120"/><path d="M1062.2 255.9L1068.78 267.3L1055.62 267.3Z" fill="#edb120"/><path d="M1087 272.9L1093.58 284.3L1080.42 284.3Z" fill="#edb120"/><path d="M1111.3 281.7L1117.88 293.1L1104.72 293.1Z" fill="#edb120"/><path d="M1134.2 288.9L1140.78 300.3L1127.62 300.3Z" fill="#edb120"/><path d="M1156.3 299.4L1162.88 310.8L1149.72 310.8Z" fill="#edb120"/><path d="M1177.8 306.5L1184.38 317.9L1171.22 317.9Z" fill="#edb120"/><path d="M1198.4 312.1L1204.98 323.5L1191.82 323.5Z" fill="#edb120"/><path d="M1217.5 316.6L1224.08 328L1210.92 328Z" fill="#edb120"/><path d="M1235.2 320L1241.78 331.4L1228.62 331.4Z" fill="#edb120"/><path d="M1251.1 324.1L1257.68 335.5L1244.52 335.5Z" fill="#edb120"/><path d="M1266.3 327.1L1272.88 338.5L1259.72 338.5Z" fill="#edb120"/></g>
<polyline points="766.8,380 772,177.5 773.5,145 775,120 777.5,100 780,82 783.3,67.6 786,60 789,53 792,48 795.6,43 800,39.5 803.9,36.8 809.4,38.3 814.8,39.5 817.5,36.8 823.8,38.3 830.5,39.9 833.2,36.8 839.5,37.4 846.8,40.2 850.3,38.5 857.6,40.9 865.3,42.3 870,39.5 876.4,42.7 882.9,41.2 887.7,44.2 892,50 896.9,56.7 904.5,64.5 911,72.5 918.4,82 930,95 940.8,107.3 952,120 963.9,134.5 976,152 987.8,171 1000,190 1012.6,209.6 1025,227 1037.3,240.5 1050,252.5 1062.2,262.5 1075,272 1087,280.5 1100,285 1111.3,288.5 1134.2,295.7 1156.3,302.2 1177.8,307.7 1198.4,312.3 1217.5,316 1235.2,319 1251.1,321.6 1266.3,324.2 1277,327.9" fill="none" stroke="#77ac30" stroke-width="2.15" stroke-linejoin="round" clip-path="url(#cR)"/>
<g clip-path="url(#cR)"><path d="M772 171.1L776.6 177.5L772 183.9L767.4 177.5Z" fill="#77ac30"/><path d="M783.3 61.2L787.9 67.6L783.3 74L778.7 67.6Z" fill="#77ac30"/><path d="M795.6 36.6L800.2 43L795.6 49.4L791 43Z" fill="#77ac30"/><path d="M809.4 31.9L814 38.3L809.4 44.7L804.8 38.3Z" fill="#77ac30"/><path d="M823.8 31.9L828.4 38.3L823.8 44.7L819.2 38.3Z" fill="#77ac30"/><path d="M839.5 31L844.1 37.4L839.5 43.8L834.9 37.4Z" fill="#77ac30"/><path d="M857.6 34.5L862.2 40.9L857.6 47.3L853 40.9Z" fill="#77ac30"/><path d="M876.4 36.3L881 42.7L876.4 49.1L871.8 42.7Z" fill="#77ac30"/><path d="M896.9 50.3L901.5 56.7L896.9 63.1L892.3 56.7Z" fill="#77ac30"/><path d="M918.4 75.6L923 82L918.4 88.4L913.8 82Z" fill="#77ac30"/><path d="M940.8 100.9L945.4 107.3L940.8 113.7L936.2 107.3Z" fill="#77ac30"/><path d="M963.9 128.1L968.5 134.5L963.9 140.9L959.3 134.5Z" fill="#77ac30"/><path d="M987.8 164.6L992.4 171L987.8 177.4L983.2 171Z" fill="#77ac30"/><path d="M1012.6 203.2L1017.2 209.6L1012.6 216L1008 209.6Z" fill="#77ac30"/><path d="M1037.3 234.1L1041.9 240.5L1037.3 246.9L1032.7 240.5Z" fill="#77ac30"/><path d="M1062.2 256.1L1066.8 262.5L1062.2 268.9L1057.6 262.5Z" fill="#77ac30"/><path d="M1087 274.1L1091.6 280.5L1087 286.9L1082.4 280.5Z" fill="#77ac30"/><path d="M1111.3 282.1L1115.9 288.5L1111.3 294.9L1106.7 288.5Z" fill="#77ac30"/><path d="M1134.2 289.3L1138.8 295.7L1134.2 302.1L1129.6 295.7Z" fill="#77ac30"/><path d="M1156.3 295.8L1160.9 302.2L1156.3 308.6L1151.7 302.2Z" fill="#77ac30"/><path d="M1177.8 301.3L1182.4 307.7L1177.8 314.1L1173.2 307.7Z" fill="#77ac30"/><path d="M1198.4 305.9L1203 312.3L1198.4 318.7L1193.8 312.3Z" fill="#77ac30"/><path d="M1217.5 309.6L1222.1 316L1217.5 322.4L1212.9 316Z" fill="#77ac30"/><path d="M1235.2 312.6L1239.8 319L1235.2 325.4L1230.6 319Z" fill="#77ac30"/><path d="M1251.1 315.2L1255.7 321.6L1251.1 328L1246.5 321.6Z" fill="#77ac30"/><path d="M1266.3 317.8L1270.9 324.2L1266.3 330.6L1261.7 324.2Z" fill="#77ac30"/></g>
<path d="M765.1 376.8v-6.0M765.1 25.9v6.0M867.48 376.8v-6.0M867.48 25.9v6.0M969.86 376.8v-6.0M969.86 25.9v6.0M1072.24 376.8v-6.0M1072.24 25.9v6.0M1174.62 376.8v-6.0M1174.62 25.9v6.0M1277 376.8v-6.0M1277 25.9v6.0M765.1 376.8h6.0M1277 376.8h-6.0M765.1 267.15h6.0M1277 267.15h-6.0M765.1 157.5h6.0M1277 157.5h-6.0M765.1 47.85h6.0M1277 47.85h-6.0" stroke="#262626" stroke-width="1.3" fill="none"/>
<rect x="765.1" y="25.9" width="511.9" height="350.9" stroke="#262626" stroke-width="1.3" fill="none"/>
<text transform="translate(757.5,383) scale(0.965,1.03)" text-anchor="end" font-size="24" fill="#363636">0</text>
<text transform="translate(757.5,273.35) scale(0.965,1.03)" text-anchor="end" font-size="24" fill="#363636">-0.5</text>
<text transform="translate(757.5,163.7) scale(0.965,1.03)" text-anchor="end" font-size="24" fill="#363636">-1</text>
<text transform="translate(757.5,54.05) scale(0.965,1.03)" text-anchor="end" font-size="24" fill="#363636">-1.5</text>
<text transform="translate(765.1,403.7) scale(0.965,1.05)" text-anchor="middle" font-size="24" fill="#363636">0.0</text>
<text transform="translate(867.48,403.7) scale(0.965,1.05)" text-anchor="middle" font-size="24" fill="#363636">0.2</text>
<text transform="translate(969.86,403.7) scale(0.965,1.05)" text-anchor="middle" font-size="24" fill="#363636">0.4</text>
<text transform="translate(1072.24,403.7) scale(0.965,1.05)" text-anchor="middle" font-size="24" fill="#363636">0.6</text>
<text transform="translate(1174.62,403.7) scale(0.965,1.05)" text-anchor="middle" font-size="24" fill="#363636">0.8</text>
<text transform="translate(1277,403.7) scale(0.965,1.05)" text-anchor="middle" font-size="24" fill="#363636">1.0</text>
<rect x="1035.8" y="25" width="241.3" height="116.4" fill="#fff" stroke="#262626" stroke-width="1.3"/>
<line x1="1040" y1="38.2" x2="1082.4" y2="38.2" stroke="#000000" stroke-width="2.15"/>

<text x="1086" y="43" font-size="18.2" font-style="italic" fill="#303030">α</text>
<path d="M1103.6 36.55H1115.8M1103.6 39.85H1115.8" stroke="#303030" stroke-width="0.95"/>
<text x="1122.5" y="43" font-size="18.2" fill="#303030" textLength="32.5" lengthAdjust="spacing">3.25</text>
<circle cx="1157.8" cy="32.5" r="2.1" fill="none" stroke="#303030" stroke-width="0.85"/>
<text x="1169.8" y="43" font-size="18.2" fill="#303030" textLength="53.9" lengthAdjust="spacing">(onset)</text>
<line x1="1040" y1="60.67" x2="1082.4" y2="60.67" stroke="#0000ff" stroke-width="2.15"/>
<circle cx="1061.2" cy="60.67" r="3.5" fill="#0000ff"/>
<text x="1086" y="65.47" font-size="18.2" font-style="italic" fill="#303030">α</text>
<path d="M1103.6 59.02H1115.8M1103.6 62.32H1115.8" stroke="#303030" stroke-width="0.95"/>
<text x="1122.5" y="65.47" font-size="18.2" fill="#303030" textLength="24.4" lengthAdjust="spacing">3.5</text>
<circle cx="1149.6" cy="54.97" r="2.1" fill="none" stroke="#303030" stroke-width="0.85"/>
<text x="1160.2" y="65.47" font-size="18.2" fill="#303030" textLength="111.5" lengthAdjust="spacing">(design point)</text>
<line x1="1040" y1="83.14" x2="1082.4" y2="83.14" stroke="#ff0000" stroke-width="2.15"/>
<rect x="1057.1" y="79.04" width="8.2" height="8.2" fill="#ff0000"/>
<text x="1086" y="87.94" font-size="18.2" font-style="italic" fill="#303030">α</text>
<path d="M1103.6 81.49H1115.8M1103.6 84.79H1115.8" stroke="#303030" stroke-width="0.95"/>
<text x="1121.8" y="87.94" font-size="18.2" fill="#303030" textLength="23.3" lengthAdjust="spacing">4.0</text>
<circle cx="1148.9" cy="77.44" r="2.1" fill="none" stroke="#303030" stroke-width="0.85"/>
<line x1="1040" y1="105.61" x2="1082.4" y2="105.61" stroke="#edb120" stroke-width="2.15"/>
<path d="M1061.2 98.01L1067.78 109.41L1054.62 109.41Z" fill="#edb120"/>
<text x="1086" y="110.41" font-size="18.2" font-style="italic" fill="#303030">α</text>
<path d="M1103.6 103.96H1115.8M1103.6 107.26H1115.8" stroke="#303030" stroke-width="0.95"/>
<text x="1121.8" y="110.41" font-size="18.2" fill="#303030" textLength="23.3" lengthAdjust="spacing">4.5</text>
<circle cx="1148.9" cy="99.91" r="2.1" fill="none" stroke="#303030" stroke-width="0.85"/>
<line x1="1040" y1="128.08" x2="1082.4" y2="128.08" stroke="#77ac30" stroke-width="2.15"/>
<path d="M1061.2 121.68L1065.8 128.08L1061.2 134.48L1056.6 128.08Z" fill="#77ac30"/>
<text x="1086" y="132.88" font-size="18.2" font-style="italic" fill="#303030">α</text>
<path d="M1103.6 126.43H1115.8M1103.6 129.73H1115.8" stroke="#303030" stroke-width="0.95"/>
<text x="1121.8" y="132.88" font-size="18.2" fill="#303030" textLength="23.3" lengthAdjust="spacing">5.0</text>
<circle cx="1148.9" cy="122.38" r="2.1" fill="none" stroke="#303030" stroke-width="0.85"/>
<text x="1160.7" y="132.88" font-size="18.2" fill="#303030" textLength="54.1" lengthAdjust="spacing">(offset)</text>
<text x="1021.05" y="433.6" text-anchor="middle" font-size="26" fill="#363636" textLength="199" lengthAdjust="spacing">Normalised Chord</text>
<text transform="translate(708.3,248.45) rotate(-90)" font-size="26" fill="#363636" textLength="58.5" lengthAdjust="spacing">Mean</text>
<text transform="translate(708.3,180.65) rotate(-90)" font-size="26" font-style="italic" fill="#363636">C</text>
<text transform="translate(710.9,162.05) rotate(-90)" font-size="17" font-style="italic" fill="#363636">p</text>
<text x="1009.15" y="479.6" text-anchor="middle" font-size="31" fill="#000">(<tspan font-weight="bold">b</tspan>)</text>
</svg></body></html>
